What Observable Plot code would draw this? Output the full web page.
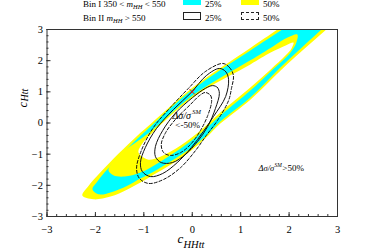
<!DOCTYPE html>
<html><head><meta charset="utf-8">
<script src="https://cdn.jsdelivr.net/npm/d3@7"></script>
<script src="https://cdn.jsdelivr.net/npm/@observablehq/plot@0.6"></script>
<style>
html,body{margin:0;padding:0;background:#fff;overflow:hidden;}
body{font-family:"Liberation Serif",serif;color:#000;}
#legend{position:relative;height:25px;width:374px;font-size:9px;}
#legend .t{position:absolute;line-height:10px;white-space:nowrap;}
#legend .sw{position:absolute;width:18px;height:8px;box-sizing:border-box;}
#legend sub{font-size:6.5px;vertical-align:-1.5px;line-height:0;font-style:italic;}
</style></head><body>
<div id="legend"></div>
<div id="chart"></div>
<script>
// tick labels
const xTicks = [-3, -2, -1, 0, 1, 2, 3];
const yTicks = [-3, -2, -1, 0, 1, 2, 3];
// SM point (cHHtt, cHtt)
const smPoint = [[0, 1]];
// Bin I contours (filled): +50%, +25%, -25%, -50%
const binI_p50 = [[-2.27,-2.33],[-2.14,-2.01],[-1.90,-1.59],[-1.52,-0.98],[-1.13,-0.40],[-0.86,-0.03],[0.01,1.14],[1.20,2.41],[1.76,3.00],[2.34,3.64],[2.96,4.09],[3.27,3.77],[2.86,3.13],[2.44,2.55],[1.82,1.68],[1.20,0.75],[0.58,-0.02],[0.27,-0.50],[-0.04,-0.91],[-0.35,-1.24],[-0.72,-1.59],[-1.07,-1.91],[-1.34,-2.13],[-1.69,-2.36],[-2.04,-2.45]];
const binI_p25 = [[-2.06,-2.13],[-1.96,-1.88],[-1.77,-1.52],[-1.52,-1.11],[-1.13,-0.50],[-0.86,-0.11],[0.01,1.08],[1.20,2.33],[1.86,3.00],[2.44,3.61],[2.96,3.93],[3.06,3.61],[2.67,3.00],[2.28,2.45],[1.82,1.78],[1.20,0.82],[0.58,0.05],[0.27,-0.43],[-0.04,-0.82],[-0.35,-1.14],[-0.72,-1.49],[-1.07,-1.78],[-1.34,-2.01],[-1.69,-2.23],[-1.92,-2.29]];
const binI_m25 = [[-1.73,-1.52],[-1.61,-1.20],[-1.40,-0.88],[-1.11,-0.56],[-0.86,-0.27],[0.01,0.88],[1.20,2.01],[1.66,2.45],[1.97,2.74],[2.17,2.84],[2.15,2.58],[2.03,2.26],[1.62,1.65],[1.20,1.04],[0.58,0.24],[0.17,-0.34],[-0.24,-0.82],[-0.66,-1.24],[-1.07,-1.59],[-1.40,-1.72],[-1.63,-1.68]];
const binI_m50 = [[-1.11,-0.95],[-1.03,-0.66],[-0.86,-0.37],[0.01,0.82],[1.20,1.88],[1.62,2.26],[1.93,2.49],[2.09,2.58],[2.05,2.39],[1.93,2.17],[1.62,1.72],[1.20,1.14],[0.58,0.34],[0.17,-0.24],[-0.24,-0.72],[-0.66,-1.08],[-0.92,-1.17]];
// Bin II contours (lines): +50% dashed, +25% solid, -25% solid, -50% dashed
const binII_p50 = [[0.63,1.91],[0.77,1.78],[0.85,1.52],[0.81,1.11],[0.75,0.72],[0.52,0.08],[0.29,-0.40],[0.07,-0.88],[-0.24,-1.43],[-0.59,-1.81],[-0.90,-1.94],[-1.09,-1.78],[-1.15,-1.46],[-1.05,-0.88],[-0.80,-0.14],[-0.45,0.50],[-0.08,1.11],[0.27,1.65]];
const binII_p25 = [[0.56,1.75],[0.69,1.65],[0.75,1.40],[0.69,0.85],[0.44,0.21],[0.23,-0.27],[-0.02,-0.79],[-0.31,-1.27],[-0.61,-1.62],[-0.86,-1.72],[-1.03,-1.56],[-1.07,-1.27],[-0.97,-0.79],[-0.74,-0.18],[-0.39,0.43],[-0.02,0.98],[0.29,1.52]];
const binII_m25 = [[0.42,1.20],[0.52,1.14],[0.56,0.95],[0.48,0.47],[0.32,-0.11],[0.11,-0.59],[-0.14,-1.01],[-0.41,-1.27],[-0.64,-1.27],[-0.76,-1.08],[-0.76,-0.75],[-0.61,-0.24],[-0.35,0.31],[0.01,0.82],[0.27,1.11]];
const binII_m50 = [[0.27,0.98],[0.38,0.88],[0.40,0.69],[0.32,0.24],[0.17,-0.24],[-0.02,-0.66],[-0.24,-0.95],[-0.45,-1.04],[-0.59,-0.95],[-0.64,-0.69],[-0.55,-0.31],[-0.35,0.11],[-0.04,0.59],[0.15,0.88]];
// legend entries
const legendRows = ["Bin I 350 &lt; <i>m</i><sub>HH</sub> &lt; 550", "Bin II <i>m</i><sub>HH</sub> &gt; 550"];
const legendLevels = ["25%", "50%"];

const CYAN = "#00ffff", YELLOW = "#ffff00";

// legend
const lg = document.getElementById("legend");
const rowTop = [-1.5, 13], swTop = [-3, 12];
const swStyles = [
  [`background:${CYAN}`, `background:${YELLOW}`],
  ["border:1px solid #222;background:#fff", "border:1px dashed #222;background:#fff"]
];
legendRows.forEach((r, i) => {
  lg.insertAdjacentHTML("beforeend", `<span class="t" style="left:83px;top:${rowTop[i]}px">${r}</span>`);
  legendLevels.forEach((lv, j) => {
    const x0 = j === 0 ? 183 : 241;
    lg.insertAdjacentHTML("beforeend", `<div class="sw" style="left:${x0}px;top:${swTop[i]}px;${swStyles[i][j]}"></div>`);
    lg.insertAdjacentHTML("beforeend", `<span class="t" style="left:${x0 + 22}px;top:${rowTop[i]}px">${lv}</span>`);
  });
});

const px = d => d[0], py = d => d[1];
const fillC = (data, color) => Plot.line(data, {x: px, y: py, curve: "catmull-rom-closed", fill: color, stroke: "none", clip: true});
const lineC = (data, dash) => Plot.line(data, {x: px, y: py, curve: "catmull-rom-closed", fill: "none", stroke: "#111", strokeWidth: 1, strokeDasharray: dash, clip: true});
const frameH = 187, frameW = 290.5;
const xMinor = d3.range(-3, 3.001, 0.2);
const yMinor = d3.range(-3, 3.001, 0.2);
const fmt = d3.format("d");

const chart = Plot.plot({
  width: 374, height: 224,
  marginLeft: 46.5, marginRight: 37, marginTop: 4, marginBottom: 33,
  x: {domain: [-3, 3]},
  y: {domain: [-3, 3]},
  style: {fontFamily: "Liberation Serif", fontSize: "10.5px", background: "white", overflow: "visible"},
  marks: [
    fillC(binI_p50, YELLOW),
    fillC(binI_p25, CYAN),
    fillC(binI_m25, YELLOW),
    fillC(binI_m50, "white"),
    lineC(binII_p50, "3,2"),
    lineC(binII_p25, null),
    lineC(binII_m25, null),
    lineC(binII_m50, "3,2"),
    Plot.dot(smPoint, {x: px, y: py, symbol: "times", stroke: "red", r: 2.5, strokeWidth: 1}),
    // annotations
    Plot.text(["Δσ/σ"], {x: -0.41, y: 0.24, text: d => d, textAnchor: "start", fontSize: 10, fontStyle: "italic"}),
    Plot.text(["SM"], {x: 0.0, y: 0.37, text: d => d, textAnchor: "start", fontSize: 6.5, fontStyle: "italic"}),
    Plot.text(["<-50%"], {x: -0.35, y: -0.06, text: d => d, textAnchor: "start", fontSize: 9}),
    Plot.text(["Δσ/σ"], {x: 1.37, y: -1.44, text: d => d, textAnchor: "start", fontSize: 8.5, fontStyle: "italic"}),
    Plot.text(["SM"], {x: 1.70, y: -1.36, text: d => d, textAnchor: "start", fontSize: 5.5, fontStyle: "italic"}),
    Plot.text([">50%"], {x: 1.86, y: -1.44, text: d => d, textAnchor: "start", fontSize: 9}),
    // axis titles
    Plot.text(["c"], {frameAnchor: "bottom-left", dx: 130.5, dy: 26.7, text: d => d, textAnchor: "start", fontSize: 13, fontStyle: "italic"}),
    Plot.text(["HHtt"], {frameAnchor: "bottom-left", dx: 136.5, dy: 31, text: d => d, textAnchor: "start", fontSize: 10.5, fontStyle: "italic"}),
    Plot.text(["c"], {frameAnchor: "top-left", dx: -29, dy: 78, rotate: -90, text: d => d, textAnchor: "start", fontSize: 13, fontStyle: "italic"}),
    Plot.text(["Htt"], {frameAnchor: "top-left", dx: -25.7, dy: 72, rotate: -90, text: d => d, textAnchor: "start", fontSize: 10, fontStyle: "italic"}),
    Plot.frame({stroke: "#333", strokeWidth: 1}),
    Plot.ruleX(xMinor, {x: d => d, insetTop: frameH - 2, stroke: "#333"}),
    Plot.ruleX(xTicks, {x: d => d, insetTop: frameH - 4, stroke: "#333"}),
    Plot.ruleY(yMinor, {y: d => d, insetRight: frameW - 2, stroke: "#333"}),
    Plot.ruleY(yTicks, {y: d => d, insetRight: frameW - 4, stroke: "#333"}),
    Plot.axisX({ticks: xTicks, tickSize: 0, tickPadding: 9, tickFormat: fmt, label: null}),
    Plot.axisY({ticks: yTicks, tickSize: 0, tickPadding: 4, tickFormat: fmt, label: null})
  ]
});
document.getElementById("chart").appendChild(chart);
</script>
</body></html>
